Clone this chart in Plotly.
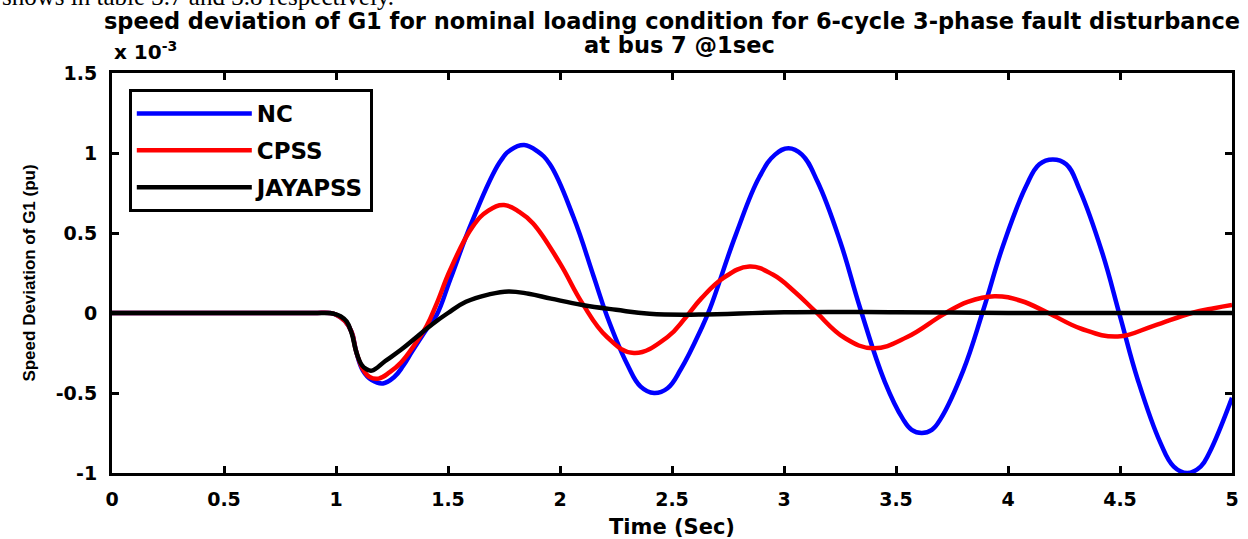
import plotly.graph_objects as go

# Values in units of 1e-3 pu (axis shows "x 10^-3")
t_nc = [0, 0.5, 0.9, 0.97, 1.0, 1.04, 1.07, 1.09, 1.12, 1.16, 1.21, 1.26, 1.30, 1.34, 1.405, 1.45, 1.51, 1.61, 1.73, 1.78,
        1.84, 1.90, 1.955, 2.06, 2.15, 2.21, 2.30, 2.36, 2.42, 2.48, 2.54, 2.63, 2.67, 2.785, 2.89, 2.96, 3.02, 3.08,
        3.15, 3.25, 3.34, 3.45, 3.53, 3.57, 3.615, 3.66, 3.70, 3.80, 3.89, 3.98, 4.08, 4.14, 4.20, 4.26, 4.32, 4.42,
        4.50, 4.58, 4.68, 4.74, 4.80, 4.86, 4.90, 5.0]
nc = [0, 0, 0, 0, -0.01, -0.05, -0.12, -0.24, -0.36, -0.42, -0.44, -0.40, -0.33, -0.24, -0.10, -0.01, 0.21, 0.58, 0.94, 1.02,
      1.05, 1.01, 0.93, 0.60, 0.23, -0.02, -0.32, -0.46, -0.50, -0.47, -0.35, -0.10, 0.03, 0.49, 0.85, 0.99, 1.03, 0.99,
      0.82, 0.45, 0.03, -0.43, -0.66, -0.73, -0.75, -0.73, -0.66, -0.36, 0.02, 0.43, 0.79, 0.93, 0.96, 0.93, 0.77, 0.38,
      -0.02, -0.42, -0.81, -0.96, -1.0, -0.96, -0.87, -0.53]

t_cpss = [0, 0.5, 0.9, 0.97, 1.0, 1.04, 1.07, 1.09, 1.12, 1.15, 1.19, 1.24, 1.29, 1.35, 1.405, 1.45, 1.51, 1.61, 1.68, 1.75,
          1.82, 1.88, 2.0, 2.10, 2.21, 2.33, 2.48, 2.56, 2.63, 2.73, 2.846, 2.95, 3.05, 3.14, 3.27, 3.40, 3.55, 3.71,
          3.82, 3.94, 4.06, 4.18, 4.33, 4.49, 4.65, 4.82, 4.92, 5.0]
cpss = [0, 0, 0, 0, -0.01, -0.05, -0.12, -0.24, -0.35, -0.40, -0.41, -0.37, -0.31, -0.20, -0.08, 0.06, 0.27, 0.54, 0.64, 0.675,
        0.63, 0.56, 0.31, 0.06, -0.15, -0.25, -0.15, -0.03, 0.09, 0.22, 0.29, 0.24, 0.13, 0.01, -0.155, -0.22, -0.15, -0.01,
        0.07, 0.105, 0.075, 0.0, -0.10, -0.147, -0.08, 0.0, 0.03, 0.05]

t_jaya = [0, 0.5, 0.9, 0.96, 0.99, 1.02, 1.048, 1.07, 1.092, 1.115, 1.135, 1.16, 1.22, 1.29, 1.36, 1.43, 1.50, 1.58, 1.68,
          1.77, 1.86, 1.96, 2.10, 2.25, 2.40, 2.62, 3.0, 3.5, 4.0, 4.5, 5.0]
jaya = [0, 0, 0, 0, -0.005, -0.02, -0.054, -0.127, -0.25, -0.325, -0.35, -0.36, -0.30, -0.23, -0.15, -0.07, 0.0, 0.07, 0.115,
        0.135, 0.12, 0.09, 0.05, 0.02, -0.005, -0.01, 0.005, 0.005, 0.0, 0.0, 0.0]

series_names = ["NC", "CPSS", "JAYAPSS"]
series_colors = ["#0000FF", "#FF0000", "#000000"]

x_tickvals = [0, 0.5, 1, 1.5, 2, 2.5, 3, 3.5, 4, 4.5, 5]
x_ticktext = ["0", "0.5", "1", "1.5", "2", "2.5", "3", "3.5", "4", "4.5", "5"]
y_tickvals = [-1, -0.5, 0, 0.5, 1, 1.5]
y_ticktext = ["-1", "-0.5", "0", "0.5", "1", "1.5"]

title_line1 = "speed deviation of G1 for nominal loading condition for 6-cycle 3-phase fault disturbance"
title_line2 = "at bus 7 @1sec"

FONT = "DejaVu Sans"

fig = go.Figure()
for (tx, ty), name, col in zip([(t_nc, nc), (t_cpss, cpss), (t_jaya, jaya)], series_names, series_colors):
    fig.add_trace(go.Scatter(x=tx, y=ty, mode="lines", name=name, legendgroup=name,
                             line=dict(color=col, width=4.5, shape="spline", smoothing=1.2)))

axis_common = dict(showgrid=False, zeroline=False, showline=True, linecolor="black", linewidth=3,
                   mirror="ticks", ticks="inside", ticklen=7, tickwidth=2.5, tickcolor="black",
                   automargin=False,
                   tickfont=dict(family=FONT, size=19, color="black", weight="bold"))

fig.update_layout(
    width=1248, height=539,
    margin=dict(l=112, r=16, t=73, b=66),
    paper_bgcolor="white", plot_bgcolor="white",
    title=dict(text=title_line1,
               x=0.5, xref="paper", xanchor="center", y=1 - 21 / 539, yref="container", yanchor="middle",
               font=dict(family=FONT, size=22.5, color="black", weight="bold")),
    xaxis=dict(range=[0, 5], tickvals=x_tickvals, ticktext=x_ticktext, ticklabelstandoff=7,
               title=dict(text="Time (Sec)", font=dict(family=FONT, size=21, color="black", weight="bold"), standoff=12),
               **axis_common),
    yaxis=dict(range=[-1, 1.5], tickvals=y_tickvals, ticktext=y_ticktext, ticklabelstandoff=8,
               title=dict(text="Speed Deviation of G1 (pu)",
                          font=dict(family="Liberation Sans", size=17, color="black", weight="bold"), standoff=16),
               **axis_common),
    legend=dict(x=0.015, y=0.96, xanchor="left", yanchor="top", bgcolor="white",
                bordercolor="black", borderwidth=3, tracegroupgap=4, itemwidth=115,
                font=dict(family=FONT, size=23, color="black", weight="bold")),
    showlegend=True,
)

fig.add_annotation(text=title_line2, xref="paper", yref="paper", x=0.507, y=1.07,
                   xanchor="center", yanchor="middle", showarrow=False,
                   font=dict(family=FONT, size=22.5, color="black", weight="bold"))
fig.add_annotation(text="x 10<sup>-3</sup>", xref="paper", yref="paper", x=0.0, y=1.0175,
                   xanchor="left", yanchor="bottom", showarrow=False,
                   font=dict(family=FONT, size=20, color="black", weight="bold"))
fig.add_annotation(text="shows in table 3.7 and 3.8 respectively.", xref="paper", yref="paper", x=-0.1, y=1.1525,
                   xanchor="left", yanchor="bottom", showarrow=False,
                   font=dict(family="Liberation Serif", size=25, color="black"))

fig.write_html("out.html")
